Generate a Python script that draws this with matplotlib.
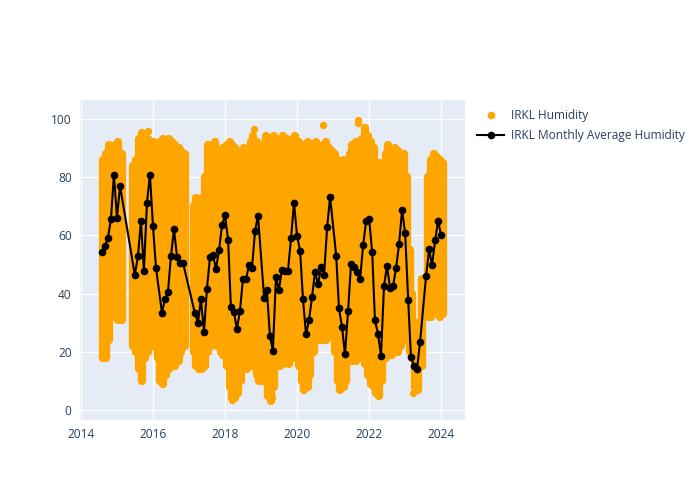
import numpy as np
import pandas as pd
import matplotlib
matplotlib.use("Agg")
import matplotlib.pyplot as plt
import matplotlib.dates as mdates
from matplotlib.lines import Line2D

# monthly average humidity (black line)
avg_months = ["2014-08", "2014-09", "2014-10", "2014-11", "2014-12", "2015-01", "2015-02",
              "2015-07", "2015-08", "2015-09", "2015-10", "2015-11", "2015-12",
              "2016-01", "2016-02", "2016-04", "2016-05", "2016-06", "2016-07", "2016-08",
              "2016-09", "2016-10", "2016-11",
              "2017-03", "2017-04", "2017-05", "2017-06", "2017-07", "2017-08", "2017-09",
              "2017-10", "2017-11", "2017-12",
              "2018-01", "2018-02", "2018-03", "2018-04", "2018-05", "2018-06", "2018-07",
              "2018-08", "2018-09", "2018-10", "2018-11", "2018-12",
              "2019-02", "2019-03", "2019-04", "2019-05", "2019-06", "2019-07", "2019-08",
              "2019-09", "2019-10", "2019-11", "2019-12",
              "2020-01", "2020-02", "2020-03", "2020-04", "2020-05", "2020-06", "2020-07",
              "2020-08", "2020-09", "2020-10", "2020-11", "2020-12",
              "2021-02", "2021-03", "2021-04", "2021-05", "2021-06", "2021-07", "2021-08",
              "2021-09", "2021-10", "2021-11", "2021-12",
              "2022-01", "2022-02", "2022-03", "2022-04", "2022-05", "2022-06", "2022-07",
              "2022-08", "2022-09", "2022-10", "2022-11", "2022-12",
              "2023-01", "2023-02", "2023-03", "2023-04", "2023-05", "2023-06",
              "2023-08", "2023-09", "2023-10", "2023-11", "2023-12", "2024-01"]
avg_values = [54.3, 56.4, 59.1, 65.6, 80.9, 66.1, 77.0,
              46.4, 52.8, 64.9, 47.9, 71.2, 80.9,
              63.2, 48.7, 33.5, 38.0, 40.6, 52.8, 62.1,
              52.6, 50.5, 50.5,
              33.3, 30.0, 38.1, 26.7, 41.6, 52.5, 53.1,
              48.6, 54.9, 63.5,
              66.9, 58.4, 35.4, 33.6, 27.9, 34.0, 44.9,
              44.9, 49.9, 48.7, 61.6, 66.7,
              38.6, 41.2, 25.5, 20.4, 45.6, 41.4, 48.1,
              47.7, 47.9, 59.0, 71.2,
              59.9, 54.7, 38.1, 26.0, 30.9, 38.9, 47.4,
              43.2, 49.3, 46.4, 62.8, 73.2,
              53.0, 35.0, 28.5, 19.2, 33.9, 50.1, 49.3,
              47.5, 44.9, 56.6, 64.9,
              65.6, 54.2, 30.8, 26.2, 18.7, 42.7, 49.6,
              41.8, 42.7, 48.8, 57.2, 68.8,
              60.7, 37.8, 18.1, 15.2, 14.0, 23.3,
              45.9, 55.2, 49.7, 58.3, 65.0, 60.0]

# spread of the individual humidity readings per month (orange cloud)
range_months = ["2014-08", "2014-09", "2014-10", "2014-11", "2014-12", "2015-01", "2015-02",
                "2015-06", "2015-07", "2015-08", "2015-09", "2015-10", "2015-11", "2015-12",
                "2016-01", "2016-02", "2016-03", "2016-04", "2016-05", "2016-06", "2016-07",
                "2016-08", "2016-09", "2016-10", "2016-11",
                "2017-02", "2017-03", "2017-04", "2017-05", "2017-06", "2017-07", "2017-08",
                "2017-09", "2017-10", "2017-11", "2017-12",
                "2018-01", "2018-02", "2018-03", "2018-04", "2018-05", "2018-06", "2018-07",
                "2018-08", "2018-09", "2018-10", "2018-11", "2018-12",
                "2019-01", "2019-02", "2019-03", "2019-04", "2019-05", "2019-06", "2019-07",
                "2019-08", "2019-09", "2019-10", "2019-11", "2019-12",
                "2020-01", "2020-02", "2020-03", "2020-04", "2020-05", "2020-06", "2020-07",
                "2020-08", "2020-09", "2020-10", "2020-11", "2020-12",
                "2021-01", "2021-02", "2021-03", "2021-04", "2021-05", "2021-06", "2021-07",
                "2021-08", "2021-09", "2021-10", "2021-11", "2021-12",
                "2022-01", "2022-02", "2022-03", "2022-04", "2022-05", "2022-06", "2022-07",
                "2022-08", "2022-09", "2022-10", "2022-11", "2022-12",
                "2023-01", "2023-02", "2023-03", "2023-04", "2023-05", "2023-06",
                "2023-08", "2023-09", "2023-10", "2023-11", "2023-12", "2024-01"]
range_low = [18, 18, 24, 32, 35, 31, 31,
             22, 20, 14, 10, 18, 20, 22,
             22, 18, 10, 9, 12, 14, 15,
             15, 17, 20, 22,
             20, 15, 14, 14, 15, 20, 22,
             25, 22, 20, 19,
             15, 8, 4, 4, 6, 10, 14,
             14, 16, 15, 12, 10,
             10, 10, 5, 3, 8, 15, 15,
             16, 17, 16, 18, 20,
             15, 10, 7, 8, 12, 20, 24,
             24, 24, 24, 25, 25,
             20, 10, 7, 8, 10, 17, 17,
             17, 18, 18, 16, 12,
             9, 8, 6, 5, 10, 18, 19,
             19, 20, 20, 22, 25,
             24, 20, 18, 8, 7, 15,
             32, 32, 33, 35, 32, 33]
range_high = [86, 88, 91, 90, 91, 92, 88,
              84, 86, 93, 95, 93, 93, 92,
              92, 91, 92, 93, 92, 93, 92,
              91, 90, 89, 88,
              70, 73, 72, 73, 80, 91, 90,
              92, 88, 89, 90,
              91, 92, 91, 90, 88, 89, 90,
              88, 92, 94, 92, 91,
              90, 94, 93, 92, 94, 93, 92,
              94, 93, 92, 93, 94,
              92, 91, 90, 92, 89, 90, 92,
              90, 91, 92, 90, 89,
              88, 86, 84, 86, 85, 88, 91,
              92, 91, 93, 97, 94,
              92, 90, 85, 85, 84, 88, 91,
              88, 90, 89, 87, 88,
              80, 55, 40, 30, 30, 45,
              80, 86, 88, 87, 86, 85]

# isolated readings outside the dense cloud
extra_dates = ["2015-11-10", "2018-10-20", "2020-09-25", "2021-09-05", "2021-09-12",
               "2019-04-10", "2019-04-18", "2023-03-20", "2023-04-12", "2018-03-15"]
extra_values = [96, 96.6, 98, 99.7, 98.5, 3.5, 4.5, 6, 8, 3.5]

text_color = "#2a3f5f"
plt.rcParams["font.family"] = ["Open Sans", "DejaVu Sans"]

fig = plt.figure(figsize=(7, 5), dpi=100)
ax = fig.add_axes([80 / 700, 80 / 500, 385 / 700, 320 / 500])
ax.set_facecolor("#E5ECF6")

mid = pd.to_datetime(range_months) + pd.Timedelta(days=15)
ax.vlines(mid, range_low, range_high, color="orange", linewidth=6.0,
          capstyle="round", zorder=2)
ax.scatter(pd.to_datetime(extra_dates), extra_values, s=28, color="orange",
           linewidths=0, zorder=2)

ax.plot(pd.to_datetime(avg_months), avg_values, color="black", linewidth=1.5,
        marker="o", markersize=4.5, zorder=3)

ax.set_xlim(pd.Timestamp("2013-12-22"), pd.Timestamp("2024-08-30"))
ax.set_ylim(-3.4, 106.5)
ax.xaxis.set_major_locator(mdates.YearLocator(2))
ax.xaxis.set_major_formatter(mdates.DateFormatter("%Y"))
ax.set_yticks([0, 20, 40, 60, 80, 100])
ax.grid(True, color="white", linewidth=1)
ax.set_axisbelow(True)
for s in ax.spines.values():
    s.set_visible(False)
ax.tick_params(length=0, labelsize=8.6, colors=text_color, pad=6)

handles = [Line2D([], [], color="orange", marker="o", linestyle="none", markersize=4.5),
           Line2D([], [], color="black", marker="o", linewidth=1.5, markersize=4.5)]
fig.legend(handles, ["IRKL Humidity", "IRKL Monthly Average Humidity"],
           loc="upper left", bbox_to_anchor=(472 / 700, 1 - 104 / 500),
           frameon=False, fontsize=8.6, labelcolor=text_color,
           handlelength=2.3, handletextpad=0.6, labelspacing=0.6, borderaxespad=0)

fig.savefig("out.png", dpi=100)
